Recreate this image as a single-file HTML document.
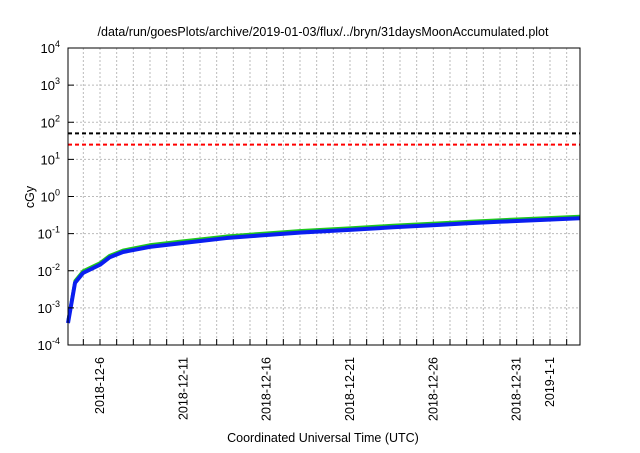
<!DOCTYPE html>
<html><head><meta charset="utf-8"><style>
body{margin:0;background:#fff;}
svg text{font-family:"Liberation Sans",sans-serif;fill:#000;}
</style></head><body>
<svg id="chart" width="640" height="448" viewBox="0 0 640 448" xmlns="http://www.w3.org/2000/svg">
<rect width="640" height="448" fill="#fff"/>
<text x="323" y="36" font-size="12.5" text-anchor="middle">/data/run/goesPlots/archive/2019-01-03/flux/../bryn/31daysMoonAccumulated.plot</text>
<text x="323" y="442" font-size="12.5" text-anchor="middle">Coordinated Universal Time (UTC)</text>
<text transform="translate(34,197) rotate(-90)" font-size="12.5" text-anchor="middle">cGy</text>
<g id="grid"></g>
<g id="series"></g>
<rect x="68" y="48" width="512" height="297" fill="none" stroke="#000" stroke-width="1"/>
<g id="axes"></g>
</svg>
<script>
const yExps=[-4,-3,-2,-1,0,1,2,3,4];
const xTickDays=[1.92,6.92,11.92,16.92,21.92,26.92,28.92];
const xTickLabels=["2018-12-6","2018-12-11","2018-12-16","2018-12-21","2018-12-26","2018-12-31","2019-1-1"];
const days=[0,0.42,0.9,1.92,2.5,3.3,4.9,6.9,9.5,11.5,14,16.9,19.5,22,24,26,28.5,30.7];
const blueVals=[0.00039,0.0047,0.0087,0.0145,0.023,0.032,0.044,0.056,0.076,0.089,0.107,0.126,0.148,0.17,0.19,0.21,0.235,0.26];
const greenVals=[0.00046,0.0054,0.0099,0.0165,0.026,0.036,0.05,0.064,0.086,0.101,0.121,0.143,0.168,0.192,0.214,0.237,0.265,0.293];
const refLevels=[50,25];
const refColors=["#000","#f00"];
const NS="http://www.w3.org/2000/svg";
const L=68,R=580,T=48,B=345;
const xs=d=>L+d*(R-L)/30.72;
const ys=v=>B-(Math.log10(v)+4)*(B-T)/8;
function mk(t,a,p){const e=document.createElementNS(NS,t);for(const k in a)e.setAttribute(k,a[k]);p.appendChild(e);return e;}
const grid=document.getElementById('grid'),axes=document.getElementById('axes'),ser=document.getElementById('series');
yExps.forEach(ex=>{
 const y=ys(Math.pow(10,ex));
 if(ex>-4&&ex<4){const g=mk('line',{x1:L,x2:R,y1:y,y2:y,stroke:'#bbb','stroke-dasharray':'2,2'},grid);
 
 }
 const t=mk('text',{x:L-8,y:y+5,'font-size':'13','text-anchor':'end'},axes);
 
 
 t.innerHTML='10<tspan dy="-6" font-size="9">'+ex+'</tspan>';
 const tk=mk('line',{x1:L,x2:L+6,y1:y,y2:y,stroke:'#000'},axes);
 
 
});
for(let d=0.92;d<30.72;d+=1){
 const x=xs(d);
 const g=mk('line',{x1:x,x2:x,y1:T,y2:B,stroke:'#bbb','stroke-dasharray':'2,2'},grid);
 
 
 const tk=mk('line',{x1:x,x2:x,y1:B,y2:B-6,stroke:'#000'},axes);
 
 
}
xTickDays.forEach((d,i)=>{
 const x=xs(d)+4;
 const t=mk('text',{transform:'translate('+x+','+(B+12)+') rotate(-90)','font-size':'12.5','text-anchor':'end'},axes);
 
 
 t.textContent=xTickLabels[i];
});
refLevels.forEach((v,i)=>{
 const y=ys(v);
 const l=mk('line',{x1:L,x2:R,y1:y,y2:y,stroke:refColors[i],'stroke-width':2,'stroke-dasharray':'4,3'},ser);
 
 
});
function path(vals,color,w,name){
 const p=mk('polyline',{points:days.map((d,i)=>xs(d)+','+ys(vals[i])).join(' '),fill:'none',stroke:color,'stroke-width':w,'stroke-linejoin':'round'},ser);
 
 
}
path(greenVals,'#1ec81e',3,'green-series');
path(blueVals,'#0a1ef0',4,'blue-series');
</script>
</body></html>
